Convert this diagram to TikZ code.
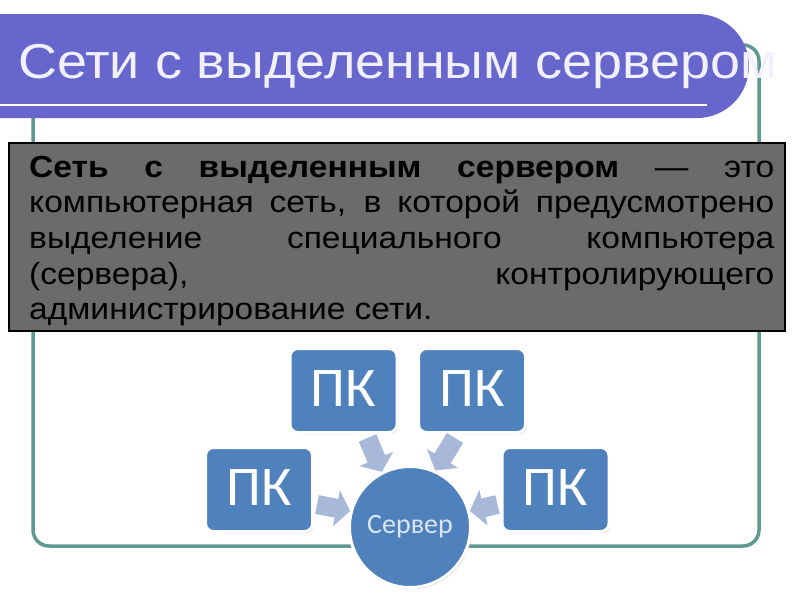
\documentclass[tikz,border=0pt]{standalone}
\usepackage{fontspec}
\setmainfont{Liberation Sans}
\newfontfamily\titlefont[FakeStretch=1.10]{Liberation Sans}
\newfontfamily\bodyfont[FakeStretch=1.10]{Liberation Sans}
\newfontfamily\calfont{Carlito}
\usetikzlibrary{arrows.meta,shadows,calc}
\definecolor{titlebar}{HTML}{6666CC}
\definecolor{titletext}{HTML}{F0F0FF}
\definecolor{frameteal}{HTML}{5E9A90}
\definecolor{graybox}{HTML}{6B6B6B}
\definecolor{boxblue}{HTML}{4F81BD}
\definecolor{arrowblue}{HTML}{A7B8D9}
\definecolor{srvtext}{HTML}{DCE6F2}
\tikzset{
  pcbox/.style={rectangle, rounded corners=8pt, fill=boxblue, draw=white, line width=3pt,
    minimum width=107pt, minimum height=84pt, inner sep=0pt, text=white,
    font=\calfont\fontsize{56}{60}\selectfont, text depth=4pt,
    drop shadow={shadow xshift=1.2pt, shadow yshift=-1.5pt, opacity=0.35, fill=black!70}},
  srvnode/.style={circle, fill=boxblue, draw=white, line width=3pt, minimum size=121pt,
    inner sep=0pt, text=srvtext, font=\calfont\fontsize{28}{30}\selectfont,
    drop shadow={shadow xshift=1.2pt, shadow yshift=-1.5pt, opacity=0.35, fill=black!70}},
  blockarrow/.style={draw=arrowblue, line width=19pt, -{Triangle[width=36pt,length=14pt]}},
}
\begin{document}
\begin{tikzpicture}[x=1pt,y=-1pt]
\useasboundingbox (0,0) rectangle (800,600);
\clip (0,0) rectangle (800,600);
% frame
\draw[frameteal, line width=3.5pt, rounded corners=16pt] (33,45) rectangle (759,546);
% title bar
\fill[titlebar] (-5,14) -- (697,14) arc[start angle=-90, end angle=90, radius=52] -- (-5,118) -- cycle;
\draw[white, line width=2.5pt] (-5,105) -- (707,105);
\node[anchor=base west, inner sep=0pt, text=titletext, font=\titlefont\fontsize{49}{58}\selectfont] (title) at (18,78) {Сети с выделенным сервером};
% definition box
\draw[fill=graybox, draw=black, line width=1.2pt] (9,143) rectangle (785,331);
\node[anchor=base west, inner sep=0pt] (def) at (29,177) {\parbox[t]{745pt}{\bodyfont\fontsize{30.5}{35.7}\selectfont\hyphenpenalty=10000 \tolerance=10000 \textbf{Сеть с выделенным сервером} — это\linebreak компьютерная сеть, в которой предусмотрено\linebreak выделение специального компьютера\linebreak (сервера), контролирующего\linebreak администрирование сети.}};
% diagram
\node[pcbox] (pk1) at (343.5,390.5) {ПК};
\node[pcbox] (pk2) at (472,390.5) {ПК};
\node[pcbox] (pk3) at (259,489.5) {ПК};
\node[pcbox] (pk4) at (555.5,489.5) {ПК};
\node[srvnode] (srv) at (410,527) {Сервер};
\draw[blockarrow] ($(pk1.south)+(24,4)$) -- (srv.117);
\draw[blockarrow] ($(pk2.south)+(-17,4)$) -- (srv.66);
\draw[blockarrow] ($(pk3.east)+(3,15)$) -- (srv.165);
\draw[blockarrow] ($(pk4.west)+(-3,15)$) -- (srv.15);
\end{tikzpicture}
\end{document}
